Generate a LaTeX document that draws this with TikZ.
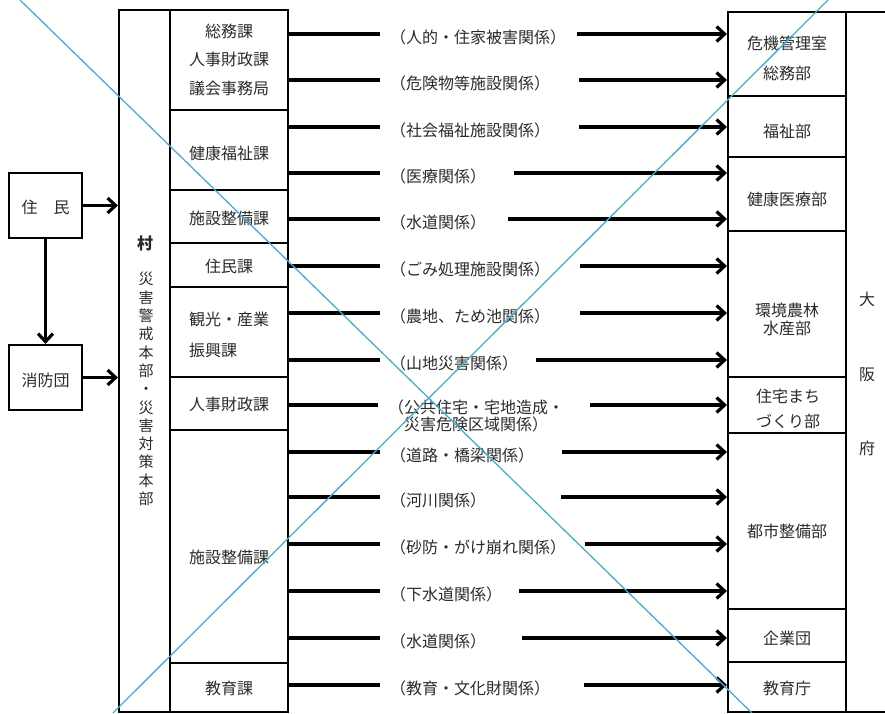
\documentclass[tikz,border=0pt]{standalone}
\usepackage{fontspec}
\setmainfont{Noto Sans CJK JP}
\usetikzlibrary{arrows.meta}
\definecolor{xblue}{HTML}{4BACC6}
\definecolor{txt}{HTML}{2A2A2A}
\tikzset{
  box/.style={draw, line width=2.2pt, inner sep=0pt},
  conn/.style={line width=3.2pt},
  arr/.style={line width=3.2pt, -{Straight Barb[length=8pt,width=15pt]}},
  lbl/.style={inner xsep=10pt, inner ysep=0pt, text=txt, font=\fontsize{16}{17.5}\selectfont, anchor=west, align=center},
  tx/.style={inner sep=0pt, text=txt, align=center, font=\fontsize{16}{18}\selectfont},
  cross/.style={xblue, line width=1.3pt},
}
\newcommand{\mkrow}[6]{%
  \node[lbl] (#1) at (380,#2+3) {#3};
  \coordinate (#1s) at (#6,#2);
  \draw[conn] (#4.east |- #1s) -- (#1.west |- #1s);
  \draw[arr] (#1s) -- (#5.west |- #1s);
}
\begin{document}
\begin{tikzpicture}[x=1pt,y=-1pt]
\useasboundingbox (0,0) rectangle (885,713);
% left boxes
\node[box, minimum width=73pt, minimum height=65pt] (jumin) at (45.5,205.5) {};
\node[tx] (jumint) at (45.5,207) {住　民};
\node[box, minimum width=73pt, minimum height=65pt] (shobo) at (45.5,377.5) {};
\node[tx] (shobot) at (45.5,380.5) {消防団};
% headquarters column
\node[box, minimum width=51pt, minimum height=702pt] (hq) at (144.5,361) {};
\node[tx, font=\bfseries\fontsize{16}{18}\selectfont] (mura) at (145,243) {村};
\node[tx, font=\fontsize{15}{18.3}\selectfont] (hqtxt) at (146,389) {災\\害\\警\\戒\\本\\部\\・\\災\\害\\対\\策\\本\\部};
% departments
\node[box, minimum width=118pt, minimum height=100pt] (d1) at (229,60) {};
\node[tx, font=\fontsize{16}{28.5}\selectfont] (d1t) at (229,59.5) {総務課\\人事財政課\\議会事務局};
\node[box, minimum width=118pt, minimum height=80pt] (d2) at (229,150) {};
\node[tx] (d2t) at (229,153) {健康福祉課};
\node[box, minimum width=118pt, minimum height=53pt] (d3) at (229,216.5) {};
\node[tx] (d3t) at (229,218) {施設整備課};
\node[box, minimum width=118pt, minimum height=44pt] (d4) at (229,265) {};
\node[tx] (d4t) at (229,266) {住民課};
\node[box, minimum width=118pt, minimum height=90pt] (d5) at (229,332) {};
\node[tx, align=left, font=\fontsize{16}{31}\selectfont] (d5t) at (229,334.5) {観光・産業\\振興課};
\node[box, minimum width=118pt, minimum height=53pt] (d6) at (229,403.5) {};
\node[tx] (d6t) at (229,404) {人事財政課};
\node[box, minimum width=118pt, minimum height=233pt] (d7) at (229,546.5) {};
\node[tx] (d7t) at (229,557) {施設整備課};
\node[box, minimum width=118pt, minimum height=49pt] (d8) at (229,687.5) {};
\node[tx] (d8t) at (229,688) {教育課};
% prefecture
\node[box, minimum width=172pt, minimum height=700pt] (osaka) at (814,362) {};
\node[tx, font=\fontsize{16}{74.5}\selectfont] (osakat) at (867,374) {大\\阪\\府};
\node[box, minimum width=118pt, minimum height=84pt] (r1) at (787,54) {};
\node[tx, font=\fontsize{16}{30}\selectfont] (r1t) at (787,58.5) {危機管理室\\総務部};
\node[box, minimum width=118pt, minimum height=61pt] (r2) at (787,126.5) {};
\node[tx] (r2t) at (787,131) {福祉部};
\node[box, minimum width=118pt, minimum height=74pt] (r3) at (787,194) {};
\node[tx] (r3t) at (787,199.5) {健康医療部};
\node[box, minimum width=118pt, minimum height=146pt] (r4) at (787,304) {};
\node[tx, font=\fontsize{16}{18}\selectfont] (r4t) at (787,319) {環境農林\\水産部};
\node[box, minimum width=118pt, minimum height=56pt] (r5) at (787,405) {};
\node[tx, font=\fontsize{16}{24.5}\selectfont] (r5t) at (788,409) {住宅まち\\づくり部};
\node[box, minimum width=118pt, minimum height=176pt] (r6) at (787,521) {};
\node[tx] (r6t) at (787,531) {都市整備部};
\node[box, minimum width=118pt, minimum height=53pt] (r7) at (787,635.5) {};
\node[tx] (r7t) at (787,638) {企業団};
\node[box, minimum width=118pt, minimum height=50pt] (r8) at (787,687) {};
\node[tx] (r8t) at (787,688) {教育庁};
% left arrows
\draw[arr] (jumin.east) -- (hq.west |- jumin.east);
\draw[arr] (jumin.south) -- (shobo.north);
\draw[arr] (shobo.east) -- (hq.west |- shobo.east);
% rows
\mkrow{a1}{34}{（人的・住家被害関係）}{d1}{r1}{577}
\mkrow{a2}{80}{（危険物等施設関係）}{d1}{r1}{579}
\mkrow{a3}{127}{（社会福祉施設関係）}{d2}{r2}{579}
\mkrow{a4}{173}{（医療関係）}{d2}{r3}{514}
\mkrow{a5}{219}{（水道関係）}{d3}{r3}{508}
\mkrow{a6}{266}{（ごみ処理施設関係）}{d4}{r4}{580}
\mkrow{a7}{313}{（農地、ため池関係）}{d5}{r4}{580}
\mkrow{a8}{360}{（山地災害関係）}{d5}{r4}{536}
\node[lbl] (a9) at (378,416) {（公共住宅・宅地造成・\\災害危険区域関係）};
\coordinate (a9s) at (590,405);
\draw[conn] (d6.east |- a9s) -- (a9.west |- a9s);
\draw[arr] (a9s) -- (r5.west |- a9s);
\mkrow{a10}{452}{（道路・橋梁関係）}{d7}{r6}{562}
\mkrow{a11}{497}{（河川関係）}{d7}{r6}{561}
\mkrow{a12}{544}{（砂防・がけ崩れ関係）}{d7}{r6}{585}
\mkrow{a13}{591}{（下水道関係）}{d7}{r7}{519}
\mkrow{a14}{638}{（水道関係）}{d7}{r7}{522}
\mkrow{a15}{685}{（教育・文化財関係）}{d8}{r8}{584}
% crossing lines
\draw[cross] (20,0) -- (752,713);
\draw[cross] (113,713) -- (828,0);
\end{tikzpicture}
\end{document}
